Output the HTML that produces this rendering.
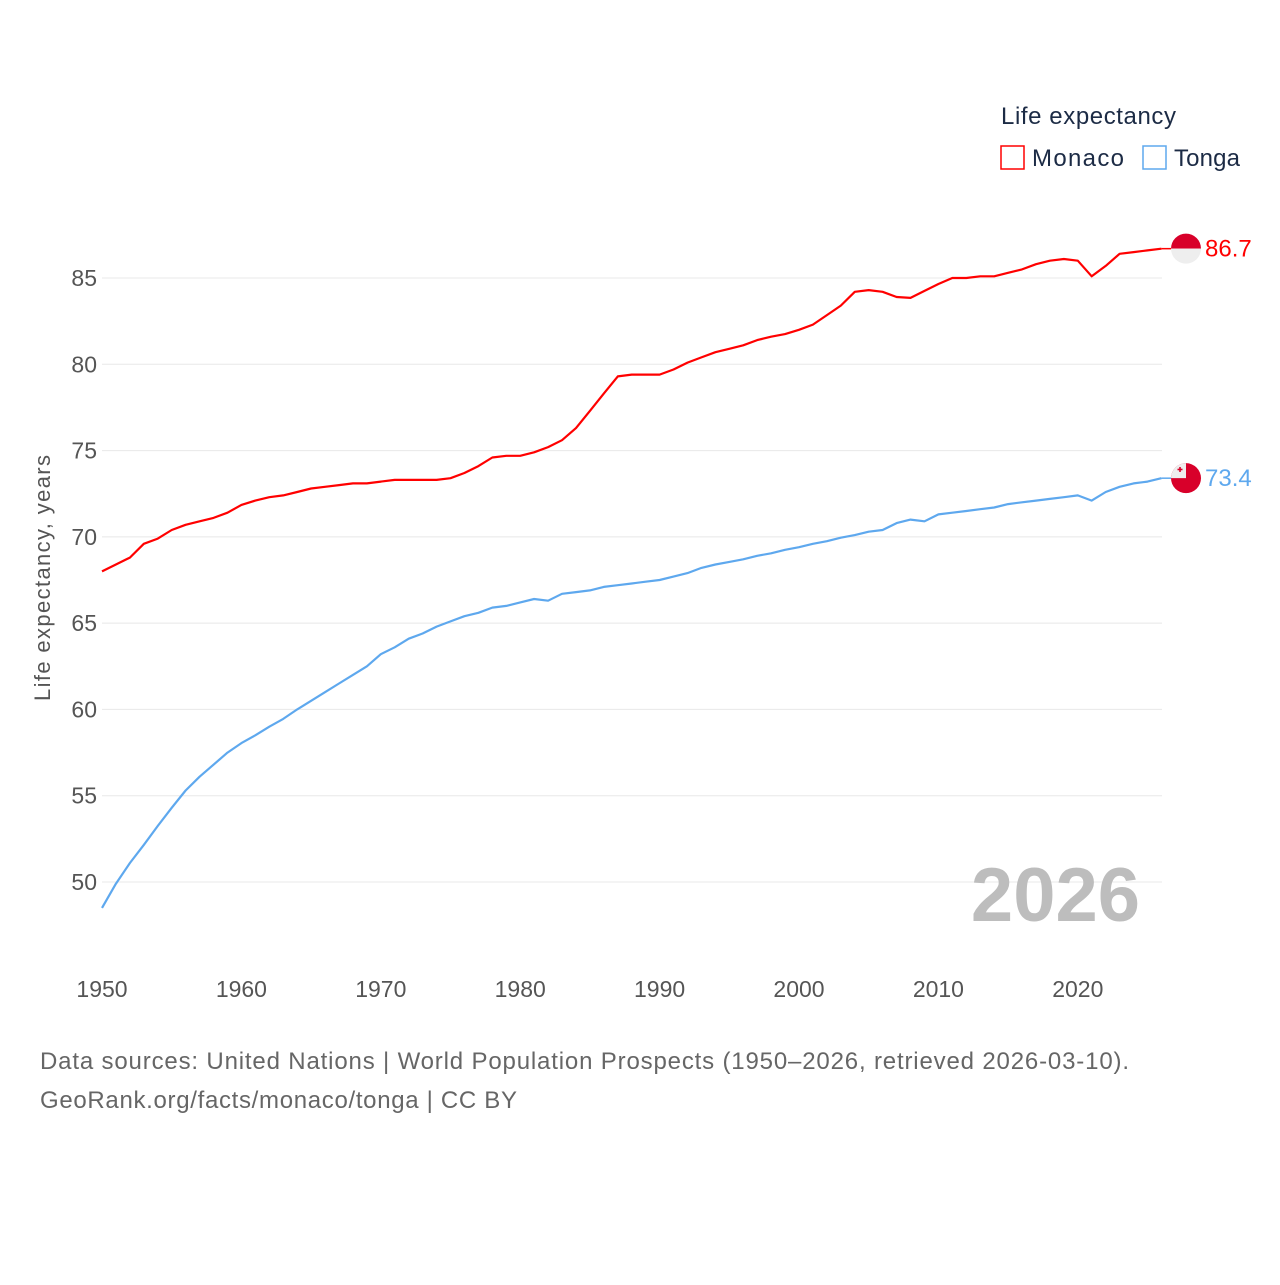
<!DOCTYPE html>
<html><head><meta charset="utf-8"><style>
body{margin:0;background:#fff;}
svg text{font-family:"Liberation Sans",sans-serif;}
</style></head><body>
<svg width="1280" height="1280" viewBox="0 0 1280 1280" xmlns="http://www.w3.org/2000/svg">
<g id="grid"></g>
<g id="yt"></g>
<g id="xt"></g>
<text transform="translate(50,578) rotate(-90)" text-anchor="middle" font-size="22" fill="#555" textLength="246">Life expectancy, years</text>
<g id="lines"></g>
<text x="1140" y="921" text-anchor="end" font-size="76" font-weight="bold" fill="#bdbdbd">2026</text>
<text x="1001" y="124" font-size="24" fill="#1c2b45" textLength="175">Life expectancy</text>
<g>
<rect x="1001" y="146" width="23" height="23" fill="none" stroke="#ff0000" stroke-width="1.5"/>
<text x="1032" y="166" font-size="24" fill="#1c2b45" textLength="92">Monaco</text></g>
<g>
<rect x="1143" y="146" width="23" height="23" fill="none" stroke="#5ea8ee" stroke-width="1.5"/>
<text x="1174" y="166" font-size="24" fill="#1c2b45" textLength="66">Tonga</text></g>
<g id="ends"></g>
<text x="40" y="1069" font-size="24" fill="#666" textLength="1089">Data sources: United Nations | World Population Prospects (1950–2026, retrieved 2026-03-10).</text>
<text x="40" y="1108" font-size="24" fill="#666" textLength="477">GeoRank.org/facts/monaco/tonga | CC BY</text>
</svg>
<script>
const years=[];for(let y=1950;y<=2026;y++)years.push(y);
const monaco=[68.0,68.4,68.8,69.6,69.9,70.4,70.7,70.9,71.1,71.4,71.85,72.1,72.3,72.4,72.6,72.8,72.9,73.0,73.1,73.1,73.2,73.3,73.3,73.3,73.3,73.4,73.7,74.1,74.6,74.7,74.7,74.9,75.2,75.6,76.3,77.3,78.3,79.3,79.4,79.4,79.4,79.7,80.1,80.4,80.7,80.9,81.1,81.4,81.6,81.75,82.0,82.3,82.85,83.4,84.2,84.3,84.2,83.9,83.85,84.25,84.65,85.0,85.0,85.1,85.1,85.3,85.5,85.8,86.0,86.1,86.0,85.1,85.7,86.4,86.5,86.6,86.7];
const tonga=[48.5,49.9,51.1,52.15,53.25,54.3,55.3,56.1,56.8,57.5,58.05,58.5,59.0,59.45,60.0,60.5,61.0,61.5,62.0,62.5,63.2,63.6,64.1,64.4,64.8,65.1,65.4,65.6,65.9,66.0,66.2,66.4,66.3,66.7,66.8,66.9,67.1,67.2,67.3,67.4,67.5,67.7,67.9,68.2,68.4,68.55,68.7,68.9,69.05,69.25,69.4,69.6,69.75,69.95,70.1,70.3,70.4,70.8,71.0,70.9,71.3,71.4,71.5,71.6,71.7,71.9,72.0,72.1,72.2,72.3,72.4,72.1,72.6,72.9,73.1,73.2,73.4];
const yTicks=[50,55,60,65,70,75,80,85];
const xTicks=[1950,1960,1970,1980,1990,2000,2010,2020];
const NS="http://www.w3.org/2000/svg";
const X=v=>102+(v-1950)*13.94;
const Y=v=>882-(v-50)*17.257;
function mk(t,a,p){const e=document.createElementNS(NS,t);for(const k in a)e.setAttribute(k,a[k]);p.appendChild(e);return e;}
const grid=document.getElementById('grid'),yt=document.getElementById('yt'),xt=document.getElementById('xt');
yTicks.forEach(v=>{
 const l=mk('line',{x1:102,x2:1162,y1:Y(v),y2:Y(v),stroke:'#e8e8e8','stroke-width':1},grid);
 
 
 const t=mk('text',{x:97,y:Y(v)+8,'text-anchor':'end','font-size':23,fill:'#555'},yt);t.textContent=v;
 
 
});
xTicks.forEach(v=>{
 const t=mk('text',{x:X(v),y:997,'text-anchor':'middle','font-size':23,fill:'#555'},xt);t.textContent=v;
 
 
});
const lines=document.getElementById('lines');
function series(vals,col,name){
 const d=vals.map((v,i)=>(i?'L':'M')+X(years[i]).toFixed(1)+','+Y(v).toFixed(1)).join('');
 const p=mk('path',{d:d,fill:'none',stroke:col,'stroke-width':2.2,'stroke-linejoin':'round'},lines);
 
 
}
series(monaco,'#ff0000','monaco-line');
series(tonga,'#5ea8ee','tonga-line');
const ends=document.getElementById('ends');
function endLabel(vals,col,name,flag){
 const v=vals[vals.length-1],cx=1186,cy=Y(v);
 const g=mk('g',{},ends);
 
 
 mk('line',{x1:X(2026),x2:cx-15,y1:cy,y2:cy,stroke:col,'stroke-width':1.5},g);
 if(flag==='mc'){
  mk('path',{d:`M${cx-15},${cy} A15,15 0 0 1 ${cx+15},${cy} Z`,fill:'#d8002a'},g);
  mk('path',{d:`M${cx-15},${cy} A15,15 0 0 0 ${cx+15},${cy} Z`,fill:'#eeeeee'},g);
 }else{
  mk('circle',{cx:cx,cy:cy,r:15,fill:'#d8002a'},g);
  mk('path',{d:`M${cx-15},${cy} A15,15 0 0 1 ${cx},${cy-15} L${cx},${cy} Z`,fill:'#eeeeee'},g);
  mk('rect',{x:cx-8.5,y:cy-9.5,width:5,height:1.6,fill:'#d8002a'},g);
  mk('rect',{x:cx-6.8,y:cy-11.2,width:1.6,height:5,fill:'#d8002a'},g);
 }
 const t=mk('text',{x:1205,y:cy+8,'font-size':24,fill:col},g);t.textContent=v.toFixed(1);
}
endLabel(monaco,'#ff0000','monaco-end-label','mc');
endLabel(tonga,'#5ea8ee','tonga-end-label','to');
</script>
</body></html>
